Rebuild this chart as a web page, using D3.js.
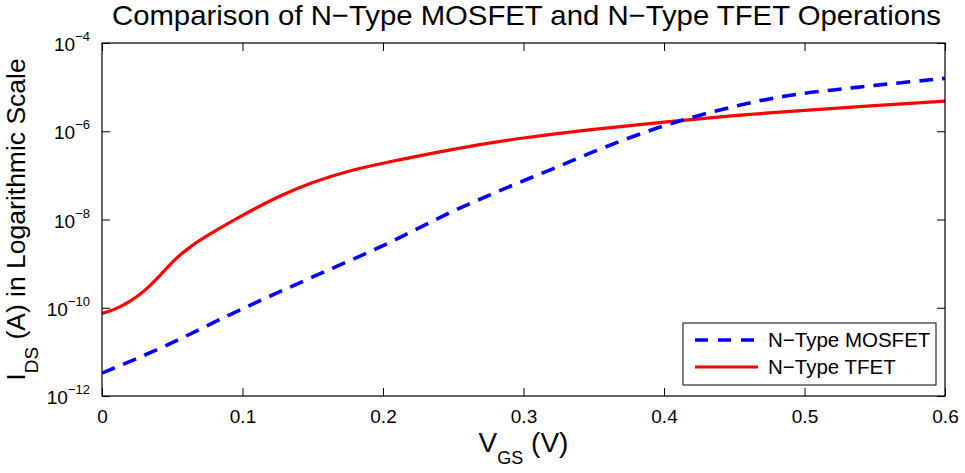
<!DOCTYPE html>
<html>
<head>
<meta charset="utf-8">
<script src="https://cdn.jsdelivr.net/npm/d3@7"></script>
<style>
  body { margin: 0; background: #fff; }
  svg { font-family: "Liberation Sans", Arial, sans-serif; }
</style>
</head>
<body>
<div id="chart"></div>
<script>
// N-Type TFET (solid red): gate voltage (V) and drain current (A)
const tfetVgs = [0, 0.01, 0.02, 0.03, 0.04, 0.05, 0.06, 0.075, 0.1, 0.125, 0.15, 0.175, 0.2,
  0.25, 0.3, 0.35, 0.4, 0.45, 0.5, 0.55, 0.6];
const tfetIds = [7.4e-11, 9.3e-11, 1.38e-10, 2.34e-10, 4.8e-10, 1.1e-9, 2.1e-9, 4.4e-9, 1.26e-8,
  3.3e-8, 7.1e-8, 1.26e-7, 1.9e-7, 4.0e-7, 7.2e-7, 1.12e-6, 1.62e-6, 2.3e-6, 3.0e-6, 3.8e-6,
  4.8e-6];

// N-Type MOSFET (dashed blue)
const mosVgs = [0, 0.025, 0.05, 0.075, 0.1, 0.125, 0.15, 0.175, 0.2, 0.225, 0.25, 0.275, 0.3,
  0.325, 0.35, 0.375, 0.4, 0.425, 0.45, 0.475, 0.5, 0.525, 0.55, 0.575, 0.6];
const mosIds = [3.3e-12, 7.1e-12, 1.58e-11, 4.0e-11, 9.5e-11, 2.2e-10, 5.0e-10, 1.12e-9, 2.5e-9,
  6.3e-9, 1.58e-8, 3.5e-8, 7.6e-8, 1.58e-7, 3.5e-7, 7.1e-7, 1.35e-6, 2.3e-6, 3.7e-6, 5.5e-6,
  7.4e-6, 8.9e-6, 1.1e-5, 1.32e-5, 1.58e-5];

const xTicks = [0, 0.1, 0.2, 0.3, 0.4, 0.5, 0.6];
const yExponents = [-4, -6, -8, -10, -12];
const seriesNames = ["N\u2212Type MOSFET", "N\u2212Type TFET"];

const width = 965, height = 473;
const margin = { top: 43, right: 20, bottom: 77, left: 102 };
const plotW = width - margin.left - margin.right;
const plotH = height - margin.top - margin.bottom;

const svg = d3.select("#chart").append("svg")
  .attr("width", width)
  .attr("height", height);

const x = d3.scaleLinear().domain([0, 0.6]).range([0, plotW]);
const y = d3.scaleLog().domain([1e-12, 1e-4]).range([plotH, 0]);

const g = svg.append("g").attr("transform", `translate(${margin.left},${margin.top})`);

// clip so the lines stay in the box
svg.append("defs").append("clipPath").attr("id", "clip")
  .append("rect").attr("width", plotW).attr("height", plotH);

const line = d3.line()
  .x(d => x(d[0]))
  .y(d => y(d[1]))
  .curve(d3.curveBasis);

const mosData = mosVgs.map((v, i) => [v, mosIds[i]]);
const tfetData = tfetVgs.map((v, i) => [v, tfetIds[i]]);

const lines = g.append("g").attr("clip-path", "url(#clip)");
lines.append("path").datum(tfetData)
  .attr("d", line)
  .attr("fill", "none")
  .attr("stroke", "#ff0000")
  .attr("stroke-width", 3.2);
lines.append("path").datum(mosData)
  .attr("d", line)
  .attr("fill", "none")
  .attr("stroke", "#0000ff")
  .attr("stroke-width", 3.6)
  .attr("stroke-dasharray", "14,9");

// inward ticks on all four sides
const tickLen = 8;
const xAxisB = d3.axisBottom(x).tickValues(xTicks).tickSize(-tickLen).tickPadding(14)
  .tickFormat(d => d === 0 ? "0" : d3.format(".1f")(d));
const xAxisT = d3.axisTop(x).tickValues(xTicks).tickSize(-tickLen).tickFormat("");
const yVals = yExponents.map(e => Math.pow(10, e));
const yAxisL = d3.axisLeft(y).tickValues(yVals).tickSize(-tickLen).tickFormat("");
const yAxisR = d3.axisRight(y).tickValues(yVals).tickSize(-tickLen).tickFormat("");

function styleAxis(sel) {
  sel.select(".domain").remove();
  sel.selectAll(".tick line").attr("stroke", "#000").attr("stroke-width", 1);
  sel.selectAll("text").attr("fill", "#000").attr("font-size", 19)
    .attr("font-family", "Liberation Sans, Arial, sans-serif");
}

g.append("g").attr("transform", `translate(0,${plotH})`).call(xAxisB).call(styleAxis);
g.append("g").call(xAxisT).call(styleAxis);
g.append("g").call(yAxisL).call(styleAxis);
g.append("g").attr("transform", `translate(${plotW},0)`).call(yAxisR).call(styleAxis);

// y tick labels as 10 with superscript exponent
const yLab = g.append("g");
yExponents.forEach(e => {
  const t = yLab.append("text")
    .attr("x", -12)
    .attr("y", y(Math.pow(10, e)) + 8)
    .attr("text-anchor", "end")
    .attr("font-size", 19)
    .attr("fill", "#000");
  t.append("tspan").text("10");
  t.append("tspan").attr("font-size", 13).attr("dy", -10).text("\u2212" + Math.abs(e));
});

// box
g.append("rect")
  .attr("width", plotW).attr("height", plotH)
  .attr("fill", "none").attr("stroke", "#000").attr("stroke-width", 1.2);

// title
svg.append("text")
  .attr("x", 112)
  .attr("y", 25)
  .attr("font-size", 28.5)
  .attr("fill", "#000")
  .attr("textLength", 829)
  .attr("lengthAdjust", "spacingAndGlyphs")
  .text("Comparison of N\u2212Type MOSFET and N\u2212Type TFET Operations");

// x label
const xl = svg.append("text")
  .attr("x", margin.left + plotW / 2)
  .attr("y", 452)
  .attr("text-anchor", "middle")
  .attr("font-size", 28)
  .attr("fill", "#000");
xl.append("tspan").text("V");
xl.append("tspan").attr("font-size", 18).attr("dy", 12).text("GS");
xl.append("tspan").attr("dy", -12).text(" (V)");

// y label
const yl = svg.append("text")
  .attr("transform", `translate(25,${margin.top + plotH / 2}) rotate(-90)`)
  .attr("text-anchor", "middle")
  .attr("font-size", 26.5)
  .attr("fill", "#000");
yl.append("tspan").text("I");
yl.append("tspan").attr("font-size", 19).attr("dy", 13).text("DS");
yl.append("tspan").attr("dy", -13).text(" (A) in Logarithmic Scale");

// legend
const legend = svg.append("g").attr("transform", "translate(683,323)");
legend.append("rect")
  .attr("width", 253).attr("height", 62)
  .attr("fill", "#fff").attr("stroke", "#000").attr("stroke-width", 1);
const legStyles = [
  { color: "#0000ff", dash: "13,10", w: 3.6 },
  { color: "#ff0000", dash: null, w: 3.2 }
];
seriesNames.forEach((name, i) => {
  const row = legend.append("g").attr("transform", `translate(0,${17 + i * 27})`);
  row.append("line")
    .attr("x1", 12).attr("x2", 75)
    .attr("stroke", legStyles[i].color)
    .attr("stroke-width", legStyles[i].w)
    .attr("stroke-dasharray", legStyles[i].dash);
  row.append("text")
    .attr("x", 85).attr("y", 7)
    .attr("font-size", 20.5)
    .attr("fill", "#000")
    .text(name);
});
</script>
</body>
</html>
